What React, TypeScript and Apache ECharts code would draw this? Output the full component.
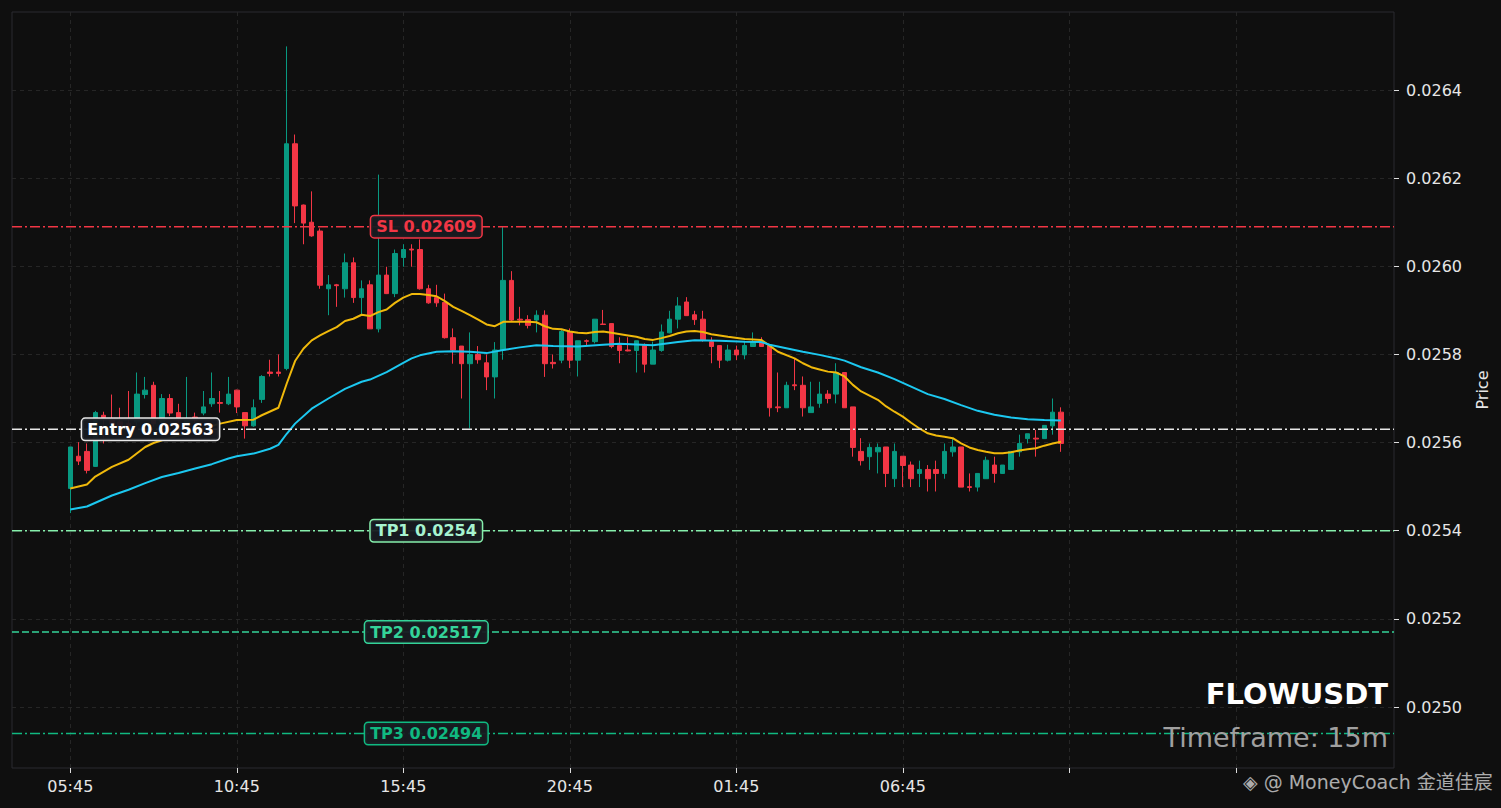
import React, { useEffect, useRef } from 'react';
import * as echarts from 'echarts';

// ---- candle data (15m, first candle 05:45) ----
const opens = [
  0.025496, 0.025569, 0.025580, 0.025546, 0.025662, 0.025651, 0.025647, 0.025643, 0.025647, 0.025709,
  0.025730, 0.025647, 0.025700, 0.025668, 0.025643, 0.025658, 0.025667, 0.025688, 0.025691, 0.025688,
  0.025719, 0.025668, 0.025638, 0.025698, 0.025760, 0.025760, 0.025768, 0.026278, 0.026139, 0.026100,
  0.026080, 0.025949, 0.025958, 0.025949, 0.026008, 0.025929, 0.025958, 0.025858, 0.025980, 0.025938,
  0.026020, 0.026039, 0.026038, 0.025949, 0.025929, 0.025918, 0.025838, 0.025819, 0.025779, 0.025800,
  0.025781, 0.025749, 0.025810, 0.025968, 0.025880, 0.025879, 0.025878, 0.025889, 0.025782, 0.025787,
  0.025852, 0.025787, 0.025831, 0.025829, 0.025869, 0.025870, 0.025820, 0.025810, 0.025809, 0.025820,
  0.025778, 0.025809, 0.025849, 0.025880, 0.025919, 0.025890, 0.025880, 0.025829, 0.025820, 0.025787,
  0.025810, 0.025799, 0.025818, 0.025829, 0.025820, 0.025681, 0.025679, 0.025731, 0.025730, 0.025668,
  0.025689, 0.025710, 0.025710, 0.025759, 0.025681, 0.025580, 0.025568, 0.025579, 0.025590, 0.025518,
  0.025569, 0.025549, 0.025530, 0.025539, 0.025539, 0.025530, 0.025579, 0.025590, 0.025500, 0.025499,
  0.025518, 0.025549, 0.025530, 0.025539, 0.025579, 0.025609, 0.025610, 0.025609, 0.025638, 0.025669,
];
const highs = [
  0.025590, 0.025601, 0.025598, 0.025672, 0.025670, 0.025709, 0.025679, 0.025717, 0.025759, 0.025749,
  0.025738, 0.025710, 0.025710, 0.025688, 0.025749, 0.025668, 0.025717, 0.025759, 0.025717, 0.025749,
  0.025720, 0.025668, 0.025698, 0.025753, 0.025788, 0.025800, 0.026499, 0.026299, 0.026140, 0.026170,
  0.026086, 0.025980, 0.025960, 0.026029, 0.026020, 0.025968, 0.025968, 0.026208, 0.025999, 0.026038,
  0.026050, 0.026050, 0.026061, 0.025958, 0.025958, 0.025938, 0.025859, 0.025819, 0.025850, 0.025819,
  0.025800, 0.025828, 0.026089, 0.025989, 0.025908, 0.025889, 0.025900, 0.025900, 0.025800, 0.025856,
  0.025859, 0.025831, 0.025834, 0.025880, 0.025901, 0.025870, 0.025839, 0.025839, 0.025831, 0.025825,
  0.025829, 0.025868, 0.025899, 0.025930, 0.025930, 0.025899, 0.025899, 0.025839, 0.025820, 0.025822,
  0.025820, 0.025831, 0.025850, 0.025839, 0.025820, 0.025759, 0.025738, 0.025790, 0.025750, 0.025738,
  0.025738, 0.025719, 0.025780, 0.025759, 0.025681, 0.025610, 0.025598, 0.025598, 0.025590, 0.025598,
  0.025569, 0.025557, 0.025559, 0.025549, 0.025559, 0.025598, 0.025610, 0.025590, 0.025530, 0.025530,
  0.025568, 0.025568, 0.025549, 0.025580, 0.025618, 0.025620, 0.025629, 0.025639, 0.025700, 0.025680,
];
const lows = [
  0.025440, 0.025549, 0.025530, 0.025545, 0.025598, 0.025632, 0.025624, 0.025620, 0.025636, 0.025700,
  0.025636, 0.025643, 0.025660, 0.025643, 0.025636, 0.025643, 0.025662, 0.025681, 0.025668, 0.025685,
  0.025667, 0.025609, 0.025636, 0.025690, 0.025750, 0.025750, 0.025764, 0.026098, 0.026050, 0.026067,
  0.025949, 0.025889, 0.025908, 0.025929, 0.025917, 0.025889, 0.025858, 0.025850, 0.025937, 0.025930,
  0.025999, 0.025999, 0.025947, 0.025915, 0.025908, 0.025836, 0.025779, 0.025700, 0.025632, 0.025779,
  0.025719, 0.025700, 0.025788, 0.025876, 0.025866, 0.025859, 0.025850, 0.025749, 0.025768, 0.025780,
  0.025769, 0.025750, 0.025819, 0.025825, 0.025867, 0.025814, 0.025780, 0.025807, 0.025759, 0.025759,
  0.025778, 0.025806, 0.025848, 0.025859, 0.025888, 0.025867, 0.025829, 0.025780, 0.025769, 0.025784,
  0.025787, 0.025789, 0.025818, 0.025818, 0.025659, 0.025669, 0.025679, 0.025719, 0.025659, 0.025668,
  0.025679, 0.025689, 0.025689, 0.025679, 0.025568, 0.025548, 0.025538, 0.025530, 0.025499, 0.025499,
  0.025499, 0.025499, 0.025499, 0.025489, 0.025489, 0.025518, 0.025568, 0.025499, 0.025489, 0.025489,
  0.025518, 0.025509, 0.025529, 0.025538, 0.025568, 0.025598, 0.025568, 0.025609, 0.025618, 0.025579,
];
const closes = [
  0.025590, 0.025558, 0.025537, 0.025668, 0.025657, 0.025643, 0.025636, 0.025632, 0.025710, 0.025719,
  0.025643, 0.025700, 0.025667, 0.025651, 0.025651, 0.025651, 0.025681, 0.025700, 0.025689, 0.025710,
  0.025681, 0.025638, 0.025679, 0.025750, 0.025757, 0.025757, 0.026278, 0.026137, 0.026098, 0.026069,
  0.025957, 0.025958, 0.025956, 0.026008, 0.025929, 0.025949, 0.025858, 0.025980, 0.025938, 0.026029,
  0.026038, 0.026037, 0.025949, 0.025917, 0.025917, 0.025838, 0.025810, 0.025779, 0.025800, 0.025788,
  0.025749, 0.025810, 0.025968, 0.025878, 0.025878, 0.025866, 0.025889, 0.025779, 0.025779, 0.025852,
  0.025787, 0.025831, 0.025830, 0.025880, 0.025868, 0.025818, 0.025809, 0.025808, 0.025831, 0.025778,
  0.025810, 0.025851, 0.025880, 0.025910, 0.025888, 0.025879, 0.025833, 0.025818, 0.025787, 0.025810,
  0.025799, 0.025820, 0.025829, 0.025818, 0.025679, 0.025679, 0.025730, 0.025729, 0.025679, 0.025681,
  0.025710, 0.025700, 0.025759, 0.025679, 0.025589, 0.025559, 0.025589, 0.025589, 0.025530, 0.025580,
  0.025548, 0.025518, 0.025539, 0.025518, 0.025530, 0.025580, 0.025590, 0.025499, 0.025498, 0.025530,
  0.025560, 0.025530, 0.025549, 0.025580, 0.025598, 0.025620, 0.025608, 0.025639, 0.025669, 0.025598,
];

// ---- moving averages (candle index, value) ----
const emaFastIdx = [
  0, 2, 3, 5, 7, 9, 10, 11, 18, 20, 22, 23, 25, 26, 27, 28, 29, 30, 31, 32, 33, 34, 35, 36, 37, 38, 39,
  40, 41, 42, 43, 44, 45, 46, 47, 48, 49, 50, 51, 52, 53, 55, 56, 57, 58, 59, 60, 61, 62, 63, 64, 65,
  67, 68, 69, 70, 71, 72, 73, 74, 75, 76, 77, 79, 81, 83, 84, 85, 87, 88, 89, 90, 91, 92, 93, 94, 95,
  97, 98, 99, 100, 101, 102, 103, 104, 105, 106, 107, 108, 109, 110, 111, 112, 113, 114, 115, 116, 117,
  118, 119,
];
const emaFastVal = [
  0.025496, 0.025505, 0.025523, 0.025545, 0.025561, 0.025590, 0.025599, 0.025605, 0.025643, 0.025651,
  0.025652, 0.025662, 0.025679, 0.025734, 0.025785, 0.025813, 0.025832, 0.025843, 0.025853, 0.025862,
  0.025876, 0.025881, 0.025890, 0.025887, 0.025896, 0.025902, 0.025917, 0.025929, 0.025937, 0.025937,
  0.025935, 0.025932, 0.025921, 0.025908, 0.025899, 0.025889, 0.025879, 0.025868, 0.025864, 0.025874,
  0.025874, 0.025874, 0.025873, 0.025864, 0.025858, 0.025857, 0.025852, 0.025849, 0.025848, 0.025851,
  0.025852, 0.025849, 0.025843, 0.025840, 0.025835, 0.025833, 0.025837, 0.025842, 0.025848, 0.025852,
  0.025853, 0.025851, 0.025846, 0.025840, 0.025835, 0.025833, 0.025820, 0.025806, 0.025791, 0.025780,
  0.025771, 0.025766, 0.025761, 0.025759, 0.025750, 0.025731, 0.025716, 0.025697, 0.025682, 0.025670,
  0.025659, 0.025645, 0.025632, 0.025621, 0.025616, 0.025613, 0.025610, 0.025598, 0.025589, 0.025583,
  0.025579, 0.025576, 0.025576, 0.025578, 0.025582, 0.025585, 0.025587, 0.025593, 0.025598, 0.025602,
];
const emaSlowIdx = [
  0, 2, 5, 7, 9, 11, 13, 15, 17, 19, 20, 22, 24, 25, 26, 27, 29, 31, 33, 35, 36, 38, 40, 41, 42, 44,
  46, 48, 50, 52, 54, 56, 58, 61, 64, 66, 70, 73, 75, 78, 81, 83, 84, 86, 88, 90, 92, 93, 95, 97, 99,
  101, 103, 105, 107, 109, 111, 113, 115, 117, 119,
];
const emaSlowVal = [
  0.025448, 0.025455, 0.025480, 0.025493, 0.025508, 0.025522, 0.025531, 0.025541, 0.025551, 0.025564,
  0.025569, 0.025575, 0.025586, 0.025595, 0.025620, 0.025643, 0.025677, 0.025700, 0.025722, 0.025738,
  0.025743, 0.025760, 0.025781, 0.025791, 0.025798, 0.025806, 0.025807, 0.025806, 0.025803, 0.025810,
  0.025816, 0.025821, 0.025819, 0.025818, 0.025822, 0.025824, 0.025821, 0.025828, 0.025832, 0.025831,
  0.025829, 0.025828, 0.025822, 0.025814, 0.025806, 0.025799, 0.025791, 0.025786, 0.025771, 0.025759,
  0.025744, 0.025727, 0.025710, 0.025699, 0.025685, 0.025672, 0.025663, 0.025657, 0.025653, 0.025651,
  0.025650,
];

// ---- trade levels ----
const levelNames = ['SL', 'Entry', 'TP1', 'TP2', 'TP3'];
const levelValues = [0.02609, 0.02563, 0.0254, 0.02517, 0.02494];
const levelColors = ['#f23645', '#e8e8e8', '#86efac', '#34d399', '#10b981'];
const levelTextColors = ['#f23645', '#ffffff', '#a7f3d0', '#34d399', '#10b981'];

// ---- axis ticks ----
const yTicks = [0.025, 0.0252, 0.0254, 0.0256, 0.0258, 0.026, 0.0262, 0.0264];
const xTickCandles = [0, 20, 40, 60, 80, 100, 120, 140];
const xTickLabels = ['05:45', '10:45', '15:45', '20:45', '01:45', '06:45', '', ''];

const PAD = 7; // empty slots before the first candle
const SLOTS = 167;
const Y_MIN = 0.0248616;
const Y_MAX = 0.026577;

export default function App() {
  const ref = useRef<HTMLDivElement>(null);
  useEffect(() => {
    document.body.style.margin = '0';
    document.body.style.background = '#0f0f0f';
    const chart = echarts.init(ref.current!, null, { renderer: 'svg' });
    const cats = Array.from({ length: SLOTS }, (_, k) => 'k' + k);
    const candles: any[] = [];
    for (let k = 0; k < PAD; k++) candles.push('-');
    for (let i = 0; i < opens.length; i++) candles.push([opens[i], closes[i], lows[i], highs[i]]);
    const isTick = (idx: number) => xTickCandles.indexOf(idx - PAD) >= 0;
    const font = 'DejaVu Sans';
    const labelAt = [43, 10, 43, 43, 43];
    const dashes: any[] = [[10, 3, 2, 3], [10, 3, 2, 3], [10, 3, 2, 3], [7, 3], [10, 3, 2, 3]];

    const levelSeries = levelValues.map((v, i) => ({
      type: 'line',
      data: [[0, v], [SLOTS - 1, v]],
      symbol: 'none',
      showSymbol: false,
      silent: true,
      z: 4,
      lineStyle: { color: levelColors[i], type: dashes[i], width: 1.5 },
    }));

    const option: any = {
      animation: false,
      backgroundColor: '#0f0f0f',
      grid: { left: 12, right: 107, top: 12, bottom: 40, show: true, borderColor: '#2a2a30', borderWidth: 1, backgroundColor: '#0f0f0f' },
      xAxis: {
        type: 'category',
        data: cats,
        boundaryGap: false,
        axisLine: { show: false },
        axisTick: { show: true, interval: (idx: number) => isTick(idx), length: 5, lineStyle: { color: '#dddddd' } },
        axisLabel: {
          interval: (idx: number) => isTick(idx),
          formatter: (_v: string, idx: number) => {
            const t = xTickCandles.indexOf(idx - PAD);
            return t >= 0 ? xTickLabels[t] : '';
          },
          color: '#e6e6e6', fontSize: 16, fontFamily: font, margin: 10,
        },
        splitLine: { show: true, interval: (idx: number) => isTick(idx), lineStyle: { color: '#262626', type: [4, 4], width: 1 } },
      },
      yAxis: {
        type: 'value',
        position: 'right',
        min: Y_MIN,
        max: Y_MAX,
        scale: true,
        axisLine: { show: false },
        axisTick: { show: true, length: 5, customValues: yTicks, lineStyle: { color: '#dddddd' } },
        axisLabel: { customValues: yTicks, formatter: (v: number) => v.toFixed(4), color: '#e6e6e6', fontSize: 16, fontFamily: font, margin: 12 },
        splitLine: { show: true, lineStyle: { color: '#262626', type: [4, 4], width: 1 } },
        name: 'Price',
        nameLocation: 'middle',
        nameRotate: 90,
        nameGap: 80,
        nameTextStyle: { color: '#e6e6e6', fontSize: 16, fontFamily: font },
      },
      series: [
        {
          type: 'candlestick',
          data: candles,
          barWidth: 5,
          z: 2,
          itemStyle: { color: '#089981', color0: '#f23645', borderColor: '#089981', borderColor0: '#f23645', borderWidth: 1 },
        },
        {
          type: 'line',
          data: emaFastIdx.map((c, i) => [c + PAD, emaFastVal[i]]),
          showSymbol: false,
          symbol: 'none',
          z: 3,
          lineStyle: { color: '#f0b90b', width: 2 },
        },
        {
          type: 'line',
          data: emaSlowIdx.map((c, i) => [c + PAD, emaSlowVal[i]]),
          showSymbol: false,
          symbol: 'none',
          z: 3,
          lineStyle: { color: '#1cc8f0', width: 2 },
        },
        ...levelSeries,
        {
          type: 'line',
          data: [],
          z: 10,
          markPoint: {
            silent: true,
            symbol: 'rect',
            symbolSize: 0,
            data: levelValues.map((v, i) => ({
              coord: [labelAt[i] + PAD, v],
              label: {
                show: true,
                position: 'inside',
                formatter: levelNames[i] + ' ' + String(v),
                color: levelTextColors[i],
                fontFamily: font,
                fontWeight: 'bold',
                fontSize: 16,
                backgroundColor: 'rgba(24,27,33,0.95)',
                borderColor: levelColors[i],
                borderWidth: 1.5,
                borderRadius: 3,
                padding: [3, 5, 2, 5],
                offset: i === 1 ? [-3, 0] : [-2, 0],
              },
            })),
          },
        },
      ],
      graphic: [
        { type: 'text', x: 1388, y: 694, z: 20, style: { text: 'FLOWUSDT', fill: '#ffffff', font: 'bold 29px DejaVu Sans', align: 'right', verticalAlign: 'middle' } },
        { type: 'text', x: 1388, y: 737, z: 20, style: { text: 'Timeframe: 15m', fill: '#a0a0a0', font: '27px DejaVu Sans', align: 'right', verticalAlign: 'middle' } },
        { type: 'text', x: 1243, y: 782, z: 20, style: { text: '◈ @ MoneyCoach 金道佳宸', fill: 'rgba(225,225,225,0.75)', font: '19px DejaVu Sans, Noto Sans CJK SC', align: 'left', verticalAlign: 'middle' } },
      ],
    };
    chart.setOption(option);
    return () => chart.dispose();
  }, []);
  return <div ref={ref} style={{ position: 'fixed', left: 0, top: 0, width: 1501, height: 808 }} />;
}
